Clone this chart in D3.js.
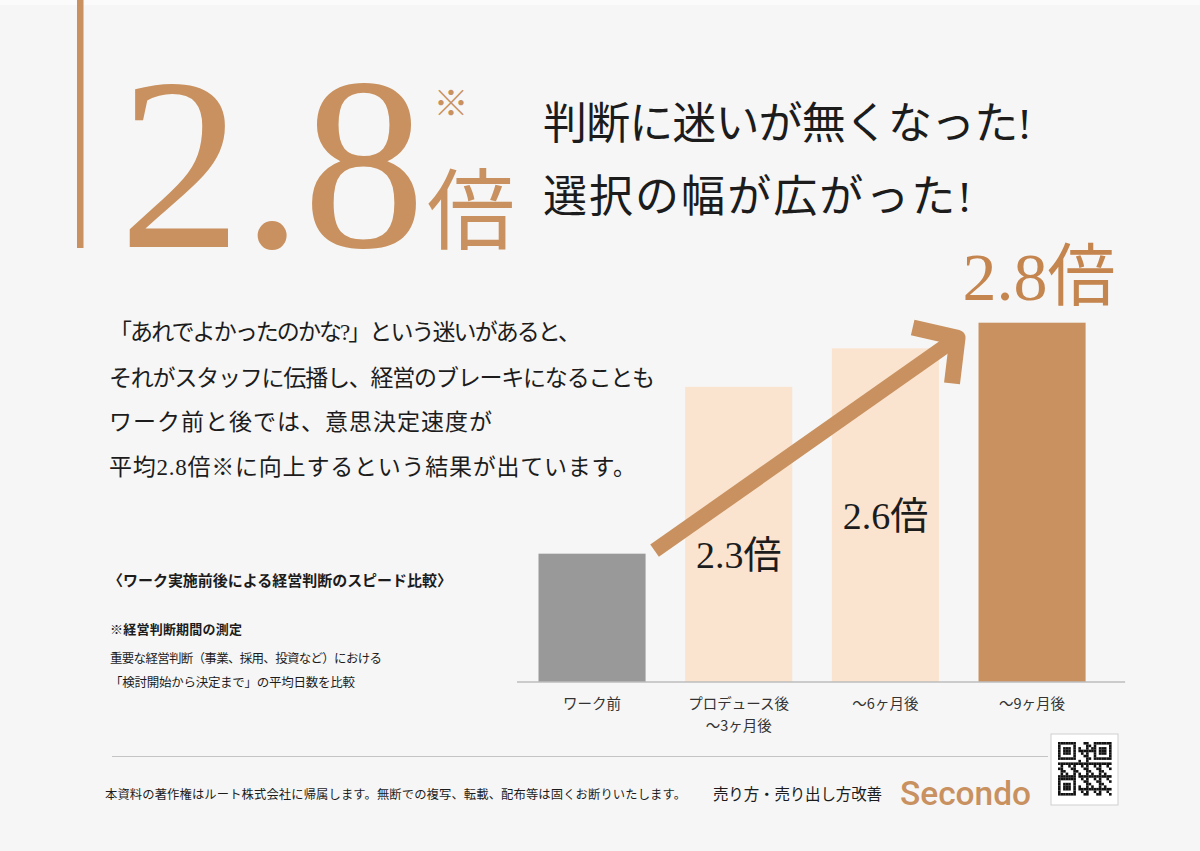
<!DOCTYPE html>
<html><head><meta charset="utf-8">
<script src="https://cdn.jsdelivr.net/npm/d3@7"></script>
<style>html,body{margin:0;padding:0;background:#f6f6f6;}svg{display:block}</style>
</head><body><svg id="c" width="1200" height="851"></svg>
<script>
// ---------- data ----------
const heroValue = "2.8";
const heroUnit = "倍";
const heroMark = "※";
const headlineLines = ["判断に迷いが無くなった!", "選択の幅が広がった!"];
const bodyLines = [
  "「あれでよかったのかな?」という迷いがあると、",
  "それがスタッフに伝播し、経営のブレーキになることも",
  "ワーク前と後では、意思決定速度が",
  "平均2.8倍※に向上するという結果が出ています。"
];
const chartTitle = "〈ワーク実施前後による経営判断のスピード比較〉";
const noteTitle = "※経営判断期間の測定";
const noteLines = ["重要な経営判断（事業、採用、投資など）における", "「検討開始から決定まで」の平均日数を比較"];
const categories = ["ワーク前", "プロデュース後〜3ヶ月後", "〜6ヶ月後", "〜9ヶ月後"];
const categoryLines = [["ワーク前"], ["プロデュース後", "〜3ヶ月後"], ["〜6ヶ月後"], ["〜9ヶ月後"]];
const values = [1.0, 2.3, 2.6, 2.8];
const valueLabels = ["", "2.3倍", "2.6倍", "2.8倍"];
const copyright = "本資料の著作権はルート株式会社に帰属します。無断での複写、転載、配布等は固くお断りいたします。";
const serviceName = "売り方・売り出し方改善";
const brand = "Secondo";

// ---------- styles ----------
const W = 1200, H = 851;
const BROWN = "#c8915f", PEACH = "#fae3cf", GRAY = "#999999", INK = "#1c1c1c";
const SERIF = "'Liberation Serif','Noto Sans CJK JP',serif";
const CJK = "'Noto Sans CJK JP','Noto Sans',sans-serif";
const barFill = i => i === 0 ? GRAY : (i === values.length - 1 ? BROWN : PEACH);

const svg = d3.select("#c");
svg.append("rect").attr("width", W).attr("height", H).attr("fill", "#f6f6f6");
svg.append("rect").attr("width", W).attr("height", 5).attr("fill", "#fbfbfb");

// accent bar
svg.append("rect").attr("x", 77).attr("y", 0).attr("width", 6.5).attr("height", 248).attr("fill", BROWN);

// hero number
svg.append("text").attr("x", 119).attr("y", 247)
  .attr("font-family", "'Liberation Serif',serif").attr("font-size", 245).attr("fill", BROWN).text(heroValue);
svg.append("text").attr("x", 451).attr("y", 116).attr("text-anchor", "middle")
  .attr("font-family", CJK).attr("font-size", 35).attr("fill", BROWN).text(heroMark);
svg.append("text").attr("x", 471).attr("y", 242).attr("text-anchor", "middle")
  .attr("font-family", CJK).attr("font-size", 88).attr("fill", BROWN).text(heroUnit);

// headline
const headY = [139, 212], headLen = [489, 429];
svg.selectAll("text.head").data(headlineLines).join("text").attr("class", "head")
  .attr("x", 543).attr("y", (d, i) => headY[i])
  .attr("textLength", (d, i) => headLen[i]).attr("lengthAdjust", "spacing")
  .attr("font-family", SERIF).attr("font-size", 44).attr("fill", INK).text(d => d);

// body text
const bodyY = [340, 386, 430, 475], bodyLen = [472, 546, 383, 527];
svg.selectAll("text.body").data(bodyLines).join("text").attr("class", "body")
  .attr("x", 109).attr("y", (d, i) => bodyY[i])
  .attr("textLength", (d, i) => bodyLen[i]).attr("lengthAdjust", "spacing")
  .attr("font-family", SERIF).attr("font-size", 23).attr("fill", INK).text(d => d);

// notes
svg.append("text").attr("x", 108).attr("y", 586).attr("textLength", 344).attr("lengthAdjust", "spacing")
  .attr("font-family", CJK).attr("font-weight", 700).attr("font-size", 15).attr("fill", INK).text(chartTitle);
svg.append("text").attr("x", 110).attr("y", 634).attr("textLength", 132).attr("lengthAdjust", "spacing")
  .attr("font-family", CJK).attr("font-weight", 700).attr("font-size", 13).attr("fill", INK).text(noteTitle);
const noteY = [663, 687], noteLen = [272, 245];
svg.selectAll("text.note").data(noteLines).join("text").attr("class", "note")
  .attr("x", 110).attr("y", (d, i) => noteY[i])
  .attr("textLength", (d, i) => noteLen[i]).attr("lengthAdjust", "spacing")
  .attr("font-family", CJK).attr("font-size", 12.5).attr("fill", INK).text(d => d);

// ---------- chart ----------
const x = d3.scaleBand().domain(categories).range([538.5, 1085.6]).paddingInner(0.27).paddingOuter(0);
const y = d3.scaleLinear().domain([0, 2.8]).range([682, 322.7]);
const bw = x.bandwidth();

svg.selectAll("rect.bar").data(values).join("rect").attr("class", "bar")
  .attr("x", (d, i) => x(categories[i])).attr("y", d => y(d))
  .attr("width", bw).attr("height", d => y(0) - y(d))
  .attr("fill", (d, i) => barFill(i));

// baseline
svg.append("line").attr("x1", x(categories[0]) - 21.5).attr("x2", x(categories[3]) + bw + 39.5)
  .attr("y1", y(0)).attr("y2", y(0)).attr("stroke", "#bdbdbd").attr("stroke-width", 1.5);

// category labels
categoryLines.forEach((lines, i) => {
  lines.forEach((t, k) => {
    svg.append("text").attr("x", x(categories[i]) + bw / 2).attr("y", 708.5 + k * 22.5)
      .attr("text-anchor", "middle").attr("font-family", CJK).attr("font-size", 14.5)
      .attr("fill", "#333").text(t);
  });
});

// arrow
const p0 = [x(categories[0]) + bw + 9, y(values[0]) - 3];
const tip = [x(categories[3]) - 21, y(values[3]) + 15];
const ang = Math.atan2(p0[1] - tip[1], p0[0] - tip[0]);
const bl = 46, spread = 48 * Math.PI / 180;
const b1 = [tip[0] + bl * Math.cos(ang + spread), tip[1] + bl * Math.sin(ang + spread)];
const b2 = [tip[0] + bl * Math.cos(ang - spread), tip[1] + bl * Math.sin(ang - spread)];
svg.append("path").attr("d", d3.line()([p0, tip])).attr("stroke", BROWN).attr("stroke-width", 15).attr("fill", "none");
svg.append("path").attr("d", d3.line()([b1, tip, b2])).attr("stroke", BROWN).attr("stroke-width", 16)
  .attr("stroke-linejoin", "round").attr("fill", "none");

// value labels
valueLabels.forEach((t, i) => {
  if (!t) return;
  const last = i === values.length - 1;
  svg.append("text")
    .attr("x", last ? x(categories[i]) - 16 : x(categories[i]) + bw / 2)
    .attr("y", last ? y(values[i]) - 23 : y(values[i]) + 181)
    .attr("text-anchor", last ? "start" : "middle")
    .attr("font-family", SERIF).attr("font-size", last ? 68 : 38)
    .attr("fill", last ? "#c4854f" : INK).text(t);
});

// ---------- footer ----------
svg.append("line").attr("x1", 112).attr("x2", 1048).attr("y1", 756.5).attr("y2", 756.5)
  .attr("stroke", "#c4c4c4").attr("stroke-width", 1.2);
svg.append("text").attr("x", 105).attr("y", 799).attr("textLength", 581).attr("lengthAdjust", "spacing")
  .attr("font-family", CJK).attr("font-size", 12.3).attr("fill", INK).text(copyright);
svg.append("text").attr("x", 713).attr("y", 800).attr("textLength", 169).attr("lengthAdjust", "spacing")
  .attr("font-family", CJK).attr("font-size", 15.5).attr("fill", INK).text(serviceName);
svg.append("text").attr("x", 900).attr("y", 805).attr("textLength", 131).attr("lengthAdjust", "spacingAndGlyphs")
  .attr("font-family", "Roboto,sans-serif").attr("font-weight", 500).attr("font-size", 34).attr("fill", BROWN).text(brand);

// QR-like badge (decorative)
const qx = 1051, qy = 734;
svg.append("rect").attr("x", qx).attr("y", qy).attr("width", 67).attr("height", 71)
  .attr("fill", "#fff").attr("stroke", "#cfcfcf").attr("stroke-width", 1);
const N = 21, ms = 2.55, ox = qx + 7, oy = qy + 8;
const inFinder = (r, c) => (r < 7 && c < 7) || (r < 7 && c >= N - 7) || (r >= N - 7 && c < 7);
const finderOn = (r, c) => {
  const rr = r >= N - 7 ? r - (N - 7) : r, cc = c >= N - 7 ? c - (N - 7) : c;
  const m = Math.max(Math.abs(rr - 3), Math.abs(cc - 3));
  return m !== 2;
};
const cells = [];
for (let r = 0; r < N; r++) for (let c = 0; c < N; c++) {
  let on;
  if (inFinder(r, c)) on = finderOn(r, c);
  else if ((r === 7 || c === 7) && (r < 8 && c < 8 || r < 8 && c >= N - 8 || r >= N - 8 && c < 8)) on = false;
  else on = ((r * 7 + c * 11 + r * c * 3) % 5) < 2;
  if (on) cells.push([r, c]);
}
svg.selectAll("rect.qr").data(cells).join("rect").attr("class", "qr")
  .attr("x", d => ox + d[1] * ms).attr("y", d => oy + d[0] * ms)
  .attr("width", ms + 0.05).attr("height", ms + 0.05).attr("fill", "#111");
</script></body></html>
